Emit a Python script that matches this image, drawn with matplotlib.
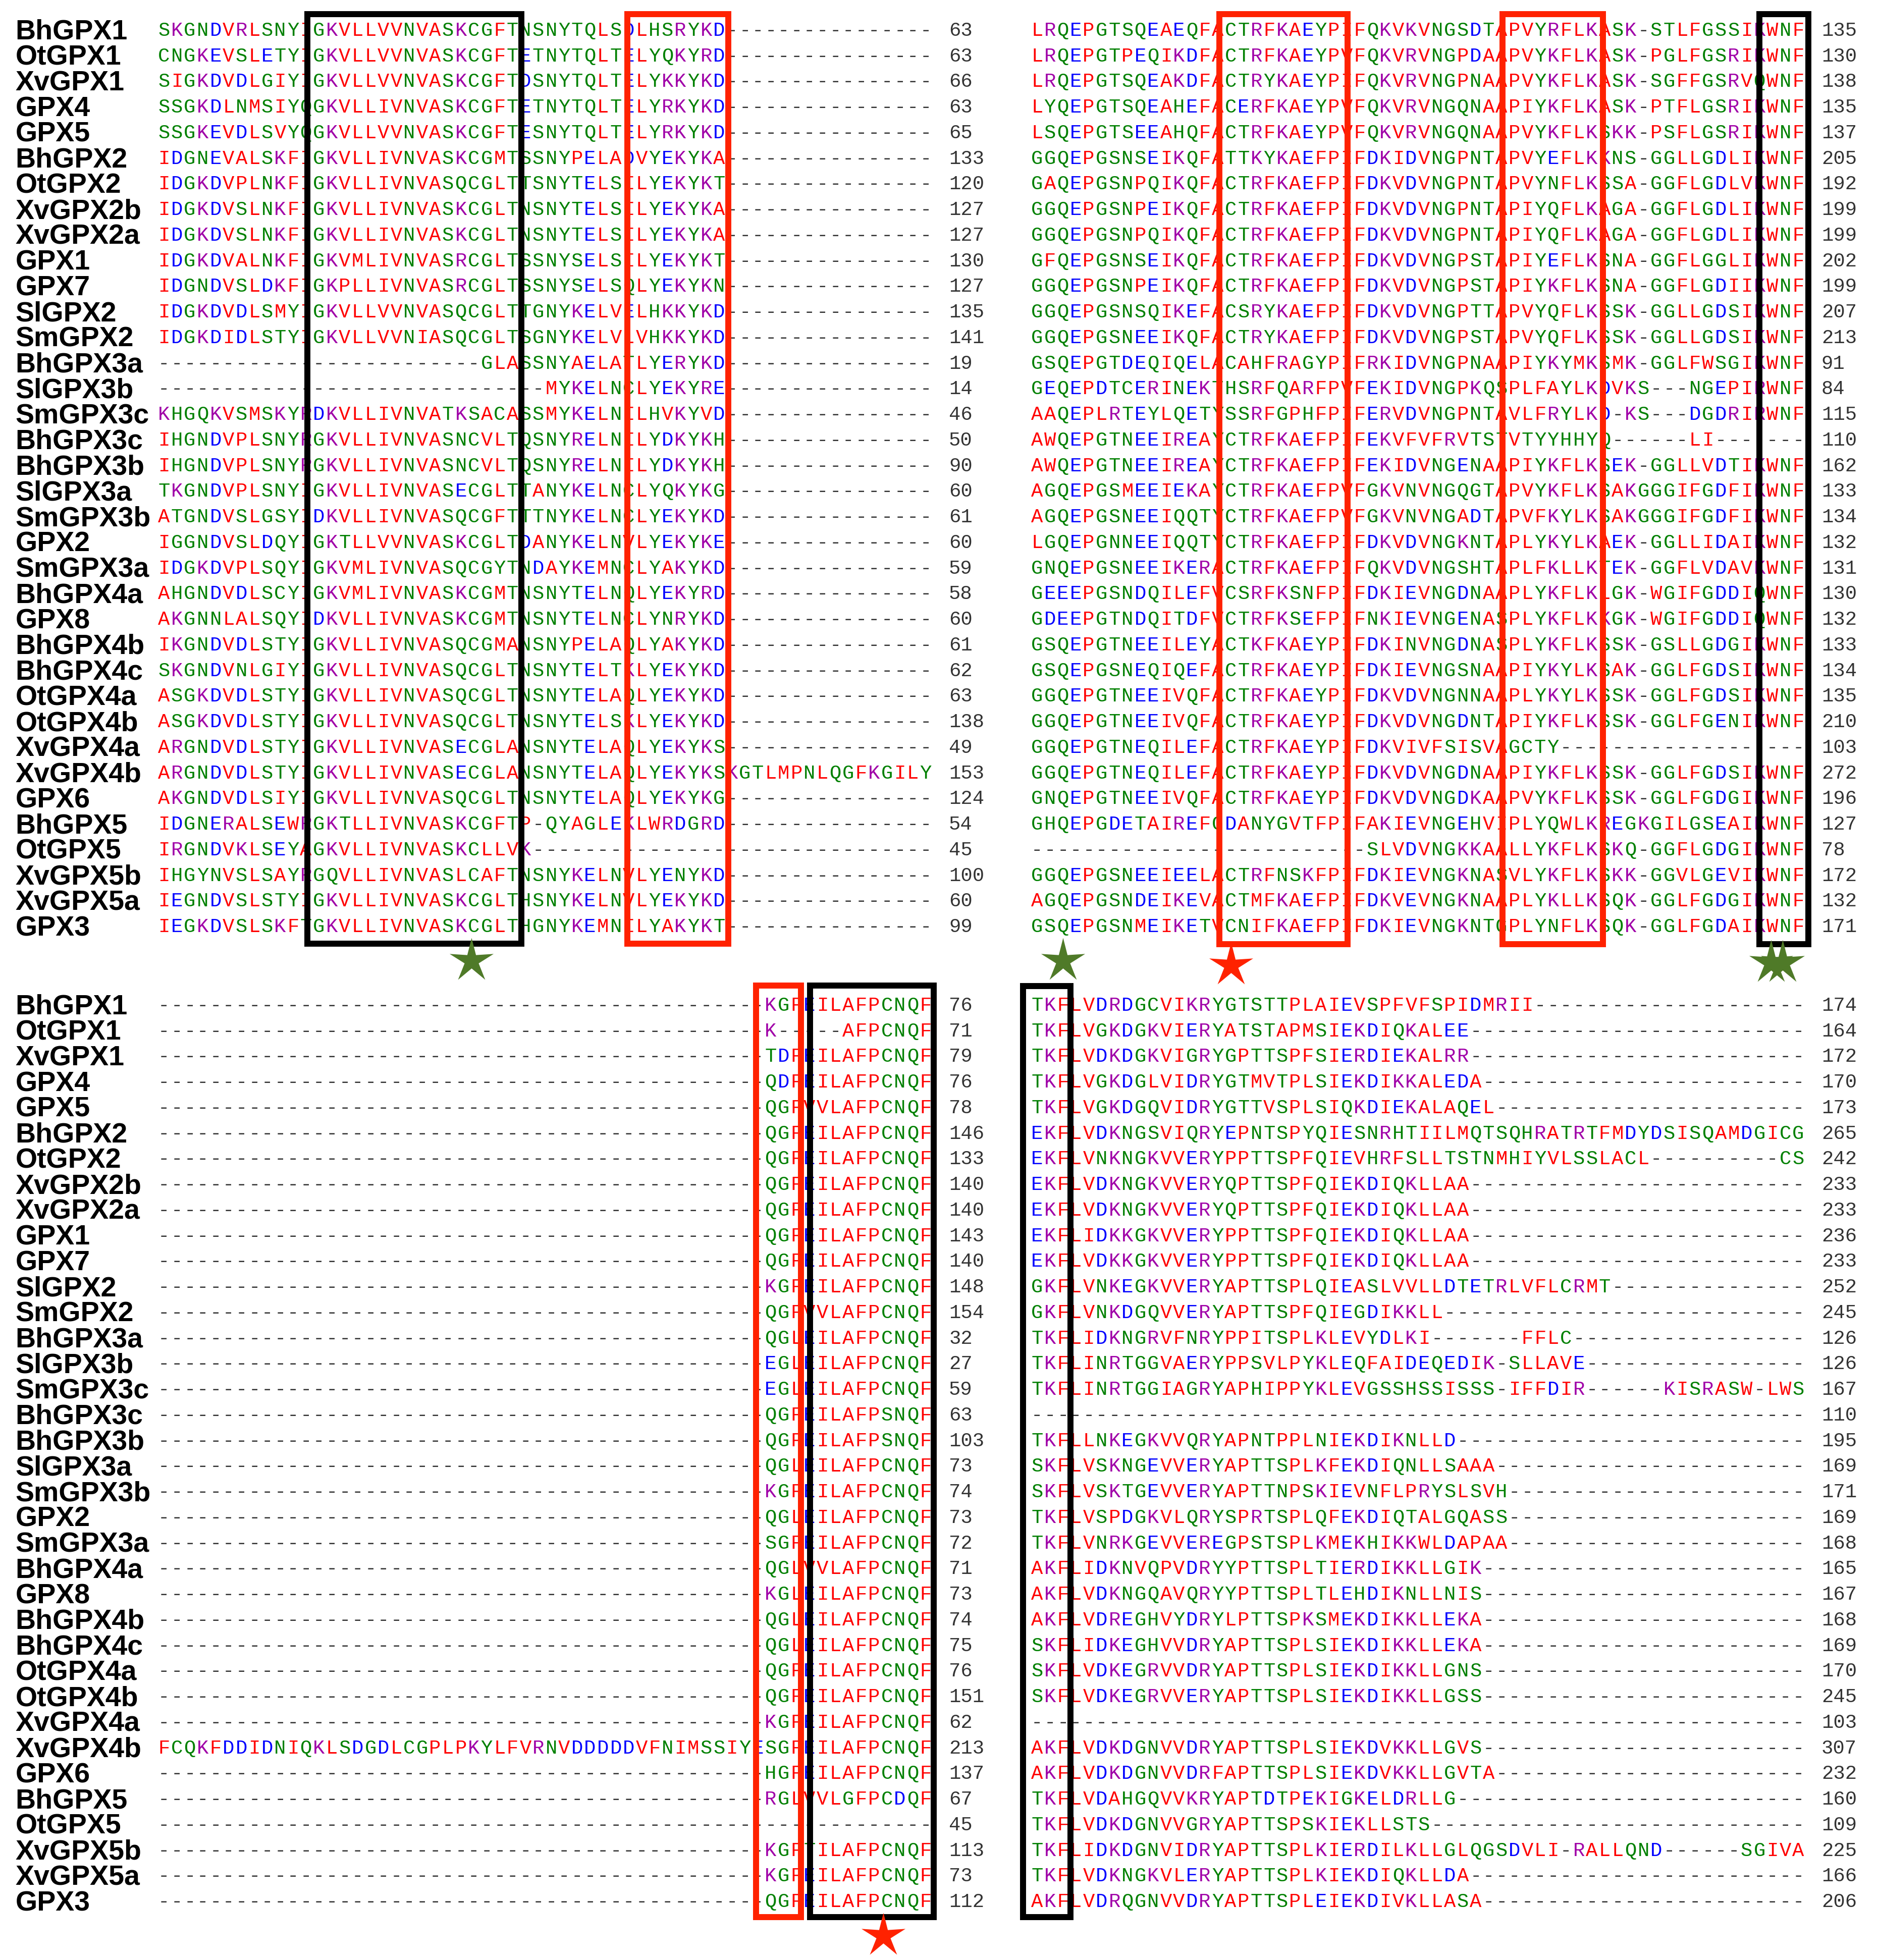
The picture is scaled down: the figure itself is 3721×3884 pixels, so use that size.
import matplotlib
matplotlib.use("Agg")
import matplotlib.pyplot as plt
from matplotlib.patches import Rectangle
from matplotlib.path import Path

# sequence names (same order in all four blocks)
names = ["BhGPX1", "OtGPX1", "XvGPX1", "GPX4", "GPX5", "BhGPX2", "OtGPX2", "XvGPX2b",
         "XvGPX2a", "GPX1", "GPX7", "SlGPX2", "SmGPX2", "BhGPX3a", "SlGPX3b", "SmGPX3c",
         "BhGPX3c", "BhGPX3b", "SlGPX3a", "SmGPX3b", "GPX2", "SmGPX3a", "BhGPX4a", "GPX8",
         "BhGPX4b", "BhGPX4c", "OtGPX4a", "OtGPX4b", "XvGPX4a", "XvGPX4b", "GPX6", "BhGPX5",
         "OtGPX5", "XvGPX5b", "XvGPX5a", "GPX3"]

# block 1 (top left), columns 1-60
block1 = [
    "SKGNDVRLSNYIGKVLLVVNVASKCGFTNSNYTQLSDLHSRYKD",
    "CNGKEVSLETYIGKVLLVVNVASKCGFTETNYTQLTELYQKYRD",
    "SIGKDVDLGIYIGKVLLVVNVASKCGFTDSNYTQLTELYKKYKD",
    "SSGKDLNMSIYQGKVLLIVNVASKCGFTETNYTQLTELYRKYKD",
    "SSGKEVDLSVYQGKVLLVVNVASKCGFTESNYTQLTELYRKYKD",
    "IDGNEVALSKFIGKVLLIVNVASKCGMTSSNYPELADVYEKYKA",
    "IDGKDVPLNKFIGKVLLIVNVASQCGLTTSNYTELSILYEKYKT",
    "IDGKDVSLNKFIGKVLLIVNVASKCGLTNSNYTELSILYEKYKA",
    "IDGKDVSLNKFIGKVLLIVNVASKCGLTNSNYTELSILYEKYKA",
    "IDGKDVALNKFIGKVMLIVNVASRCGLTSSNYSELSILYEKYKT",
    "IDGNDVSLDKFIGKPLLIVNVASRCGLTSSNYSELSQLYEKYKN",
    "IDGKDVDLSMYIGKVLLVVNVASQCGLTTGNYKELVELHKKYKD",
    "IDGKDIDLSTYIGKVLLVVNIASQCGLTSGNYKELVLVHKKYKD",
    "-------------------------GLASSNYAELATLYERYKD",
    "------------------------------MYKELNCLYEKYRE",
    "KHGQKVSMSKYRDKVLLIVNVATKSACASSMYKELNILHVKYVD",
    "IHGNDVPLSNYRGKVLLIVNVASNCVLTQSNYRELNILYDKYKH",
    "IHGNDVPLSNYRGKVLLIVNVASNCVLTQSNYRELNILYDKYKH",
    "TKGNDVPLSNYIGKVLLIVNVASECGLTTANYKELNCLYQKYKG",
    "ATGNDVSLGSYIDKVLLIVNVASQCGFTTTNYKELNCLYEKYKD",
    "IGGNDVSLDQYIGKTLLVVNVASKCGLTDANYKELNVLYEKYKE",
    "IDGKDVPLSQYIGKVMLIVNVASQCGYTNDAYKEMNCLYAKYKD",
    "AHGNDVDLSCYIGKVMLIVNVASKCGMTNSNYTELNQLYEKYRD",
    "AKGNNLALSQYIDKVLLIVNVASKCGMTNSNYTELNCLYNRYKD",
    "IKGNDVDLSTYIGKVLLIVNVASQCGMANSNYPELAQLYAKYKD",
    "SKGNDVNLGIYIGKVLLIVNVASQCGLTNSNYTELTKLYEKYKD",
    "ASGKDVDLSTYIGKVLLIVNVASQCGLTNSNYTELAQLYEKYKD",
    "ASGKDVDLSTYIGKVLLIVNVASQCGLTNSNYTELSKLYEKYKD",
    "ARGNDVDLSTYIGKVLLIVNVASECGLANSNYTELAQLYEKYKS",
    "ARGNDVDLSTYIGKVLLIVNVASECGLANSNYTELAQLYEKYKSKGTLMPNLQGFKGILY",
    "AKGNDVDLSIYIGKVLLIVNVASQCGLTNSNYTELAQLYEKYKG",
    "IDGNERALSEWRGKTLLIVNVASKCGFTP-QYAGLEKLWRDGRD",
    "IRGNDVKLSEYAGKVLLIVNVASKCLLVK",
    "IHGYNVSLSAYRGQVLLIVNVASLCAFTNSNYKELNVLYENYKD",
    "IEGNDVSLSTYIGKVLLIVNVASKCGLTHSNYKELNVLYEKYKD",
    "IEGKDVSLSKFTGKVLLIVNVASKCGLTHGNYKEMNILYAKYKT",
]
nums1 = [63, 63, 66, 63, 65, 133, 120, 127, 127, 130, 127, 135, 141, 19, 14, 46, 50, 90,
         60, 61, 60, 59, 58, 60, 61, 62, 63, 138, 49, 153, 124, 54, 45, 100, 60, 99]

# block 2 (top right), columns 61-120
block2 = [
    "LRQEPGTSQEAEQFACTRFKAEYPIFQKVKVNGSDTAPVYRFLKASK-STLFGSSIKWNF",
    "LRQEPGTPEQIKDFACTRFKAEYPVFQKVRVNGPDAAPVYKFLKASK-PGLFGSRIKWNF",
    "LRQEPGTSQEAKDFACTRYKAEYPIFQKVRVNGPNAAPVYKFLKASK-SGFFGSRVQWNF",
    "LYQEPGTSQEAHEFACERFKAEYPVFQKVRVNGQNAAPIYKFLKASK-PTFLGSRIKWNF",
    "LSQEPGTSEEAHQFACTRFKAEYPVFQKVRVNGQNAAPVYKFLKSKK-PSFLGSRIKWNF",
    "GGQEPGSNSEIKQFATTKYKAEFPIFDKIDVNGPNTAPVYEFLKKNS-GGLLGDLIKWNF",
    "GAQEPGSNPQIKQFACTRFKAEFPIFDKVDVNGPNTAPVYNFLKSSA-GGFLGDLVKWNF",
    "GGQEPGSNPEIKQFACTRFKAEFPIFDKVDVNGPNTAPIYQFLKAGA-GGFLGDLIKWNF",
    "GGQEPGSNPQIKQFACTRFKAEFPIFDKVDVNGPNTAPIYQFLKAGA-GGFLGDLIKWNF",
    "GFQEPGSNSEIKQFACTRFKAEFPIFDKVDVNGPSTAPIYEFLKSNA-GGFLGGLIKWNF",
    "GGQEPGSNPEIKQFACTRFKAEFPIFDKVDVNGPSTAPIYKFLKSNA-GGFLGDIIKWNF",
    "GGQEPGSNSQIKEFACSRYKAEFPIFDKVDVNGPTTAPVYQFLKSSK-GGLLGDSIKWNF",
    "GGQEPGSNEEIKQFACTRYKAEFPIFDKVDVNGPSTAPVYQFLKSSK-GGLLGDSIKWNF",
    "GSQEPGTDEQIQELACAHFRAGYPIFRKIDVNGPNAAPIYKYMKSMK-GGLFWSGIKWNF",
    "GEQEPDTCERINEKTHSRFQARFPVFEKIDVNGPKQSPLFAYLKDVKS---NGEPIRWNF",
    "AAQEPLRTEYLQETYSSRFGPHFPIFERVDVNGPNTAVLFRYLKD-KS---DGDRIRWNF",
    "AWQEPGTNEEIREAYCTRFKAEFPIFEKVFVFRVTSTVTYYHHYQ------LI-------",
    "AWQEPGTNEEIREAYCTRFKAEFPIFEKIDVNGENAAPIYKFLKSEK-GGLLVDTIKWNF",
    "AGQEPGSMEEIEKAYCTRFKAEFPVFGKVNVNGQGTAPVYKFLKSAKGGGIFGDFIKWNF",
    "AGQEPGSNEEIQQTYCTRFKAEFPVFGKVNVNGADTAPVFKYLKSAKGGGIFGDFIKWNF",
    "LGQEPGNNEEIQQTYCTRFKAEFPIFDKVDVNGKNTAPLYKYLKAEK-GGLLIDAIKWNF",
    "GNQEPGSNEEIKERACTRFKAEFPIFQKVDVNGSHTAPLFKLLKTEK-GGFLVDAVKWNF",
    "GEEEPGSNDQILEFVCSRFKSNFPIFDKIEVNGDNAAPLYKFLKLGK-WGIFGDDIQWNF",
    "GDEEPGTNDQITDFVCTRFKSEFPIFNKIEVNGENASPLYKFLKKGK-WGIFGDDIQWNF",
    "GSQEPGTNEEILEYACTKFKAEYPIFDKINVNGDNASPLYKFLKSSK-GSLLGDGIKWNF",
    "GSQEPGSNEQIQEFACTRFKAEYPIFDKIEVNGSNAAPIYKYLKSAK-GGLFGDSIKWNF",
    "GGQEPGTNEEIVQFACTRFKAEYPIFDKVDVNGNNAAPLYKYLKSSK-GGLFGDSIKWNF",
    "GGQEPGTNEEIVQFACTRFKAEYPIFDKVDVNGDNTAPIYKFLKSSK-GGLFGENIKWNF",
    "GGQEPGTNEQILEFACTRFKAEYPIFDKVIVFSISVAGCTY",
    "GGQEPGTNEQILEFACTRFKAEYPIFDKVDVNGDNAAPIYKFLKSSK-GGLFGDSIKWNF",
    "GNQEPGTNEEIVQFACTRFKAEYPIFDKVDVNGDKAAPVYKFLKSSK-GGLFGDGIKWNF",
    "GHQEPGDETAIREFGDANYGVTFPIFAKIEVNGEHVIPLYQWLKREGKGILGSEAIKWNF",
    "--------------------------SLVDVNGKKAALLYKFLKSKQ-GGFLGDGIKWNF",
    "GGQEPGSNEEIEELACTRFNSKFPIFDKIEVNGKNASVLYKFLKSKK-GGVLGEVIKWNF",
    "AGQEPGSNDEIKEVACTMFKAEFPIFDKVEVNGKNAAPLYKLLKSQK-GGLFGDGIKWNF",
    "GSQEPGSNMEIKETVCNIFKAEFPIFDKIEVNGKNTGPLYNFLKSQK-GGLFGDAIKWNF",
]
nums2 = [135, 130, 138, 135, 137, 205, 192, 199, 199, 202, 199, 207, 213, 91, 84, 115, 110,
         162, 133, 134, 132, 131, 130, 132, 133, 134, 135, 210, 103, 272, 196, 127, 78, 172,
         132, 171]

# block 3 (bottom left), columns 121-180; only the last 13 columns hold residues
tail3 = ["KGFEILAFPCNQF", "K-----AFPCNQF", "TDFEILAFPCNQF", "QDFEILAFPCNQF", "QGFVVLAFPCNQF",
         "QGFEILAFPCNQF", "QGFEILAFPCNQF", "QGFEILAFPCNQF", "QGFEILAFPCNQF", "QGFEILAFPCNQF",
         "QGFEILAFPCNQF", "KGFEILAFPCNQF", "QGFVVLAFPCNQF", "QGLEILAFPCNQF", "EGLEILAFPCNQF",
         "EGLEILAFPCNQF", "QGFEILAFPSNQF", "QGFEILAFPSNQF", "QGLEILAFPCNQF", "KGFEILAFPCNQF",
         "QGLEILAFPCNQF", "SGFEILAFPCNQF", "QGLVVLAFPCNQF", "KGLEILAFPCNQF", "QGLEILAFPCNQF",
         "QGLEILAFPCNQF", "QGFEILAFPCNQF", "QGFEILAFPCNQF", "KGFEILAFPCNQF",
         "FCQKFDDIDNIQKLSDGDLCGPLPKYLFVRNVDDDDDVFNIMSSIYESGFEILAFPCNQF",
         "HGFEILAFPCNQF", "RGLVVLGFPCDQF", "-------------", "KGFTILAFPCNQF", "KGFEILAFPCNQF",
         "QGFEILAFPCNQF"]
nums3 = [76, 71, 79, 76, 78, 146, 133, 140, 140, 143, 140, 148, 154, 32, 27, 59, 63, 103,
         73, 74, 73, 72, 71, 73, 74, 75, 76, 151, 62, 213, 137, 67, 45, 113, 73, 112]

# block 4 (bottom right), columns 181-240
block4 = [
    "TKFLVDRDGCVIKRYGTSTTPLAIEVSPFVFSPIDMRII",
    "TKFLVGKDGKVIERYATSTAPMSIEKDIQKALEE",
    "TKFLVDKDGKVIGRYGPTTSPFSIERDIEKALRR",
    "TKFLVGKDGLVIDRYGTMVTPLSIEKDIKKALEDA",
    "TKFLVGKDGQVIDRYGTTVSPLSIQKDIEKALAQEL",
    "EKFLVDKNGSVIQRYEPNTSPYQIESNRHTIILMQTSQHRATRTFMDYDSISQAMDGICG",
    "EKFLVNKNGKVVERYPPTTSPFQIEVHRFSLLTSTNMHIYVLSSLACL----------CS",
    "EKFLVDKNGKVVERYQPTTSPFQIEKDIQKLLAA",
    "EKFLVDKNGKVVERYQPTTSPFQIEKDIQKLLAA",
    "EKFLIDKKGKVVERYPPTTSPFQIEKDIQKLLAA",
    "EKFLVDKKGKVVERYPPTTSPFQIEKDIQKLLAA",
    "GKFLVNKEGKVVERYAPTTSPLQIEASLVVLLDTETRLVFLCRMT",
    "GKFLVNKDGQVVERYAPTTSPFQIEGDIKKLL",
    "TKFLIDKNGRVFNRYPPITSPLKLEVYDLKI-------FFLC",
    "TKFLINRTGGVAERYPPSVLPYKLEQFAIDEQEDIK-SLLAVE",
    "TKFLINRTGGIAGRYAPHIPPYKLEVGSSHSSISSS-IFFDIR------KISRASW-LWS",
    "",
    "TKFLLNKEGKVVQRYAPNTPPLNIEKDIKNLLD",
    "SKFLVSKNGEVVERYAPTTSPLKFEKDIQNLLSAAA",
    "SKFLVSKTGEVVERYAPTTNPSKIEVNFLPRYSLSVH",
    "TKFLVSPDGKVLQRYSPRTSPLQFEKDIQTALGQASS",
    "TKFLVNRKGEVVEREGPSTSPLKMEKHIKKWLDAPAA",
    "AKFLIDKNVQPVDRYYPTTSPLTIERDIKKLLGIK",
    "AKFLVDKNGQAVQRYYPTTSPLTLEHDIKNLLNIS",
    "AKFLVDREGHVYDRYLPTTSPKSMEKDIKKLLEKA",
    "SKFLIDKEGHVVDRYAPTTSPLSIEKDIKKLLEKA",
    "SKFLVDKEGRVVDRYAPTTSPLSIEKDIKKLLGNS",
    "SKFLVDKEGRVVERYAPTTSPLSIEKDIKKLLGSS",
    "",
    "AKFLVDKDGNVVDRYAPTTSPLSIEKDVKKLLGVS",
    "AKFLVDKDGNVVDRFAPTTSPLSIEKDVKKLLGVTA",
    "TKFLVDAHGQVVKRYAPTDTPEKIGKELDRLLG",
    "TKFLVDKDGNVVGRYAPTTSPSKIEKLLSTS",
    "TKFLIDKDGNVIDRYAPTTSPLKIERDILKLLGLQGSDVLI-RALLQND------SGIVA",
    "TKFLVDKNGKVLERYAPTTSPLKIEKDIQKLLDA",
    "AKFLVDRQGNVVDRYAPTTSPLEIEKDIVKLLASA",
]
nums4 = [174, 164, 172, 170, 173, 265, 242, 233, 233, 236, 233, 252, 245, 126, 126, 167, 110,
         195, 169, 171, 169, 168, 165, 167, 168, 169, 170, 245, 103, 307, 232, 160, 109, 225,
         166, 206]

NCOL = 60
block3 = [t.rjust(NCOL, "-") for t in tail3]

# highlighted column spans (column units, 0 = first column of the block)
boxes1 = [(11.6, 28.2, "black"), (36.4, 44.2, "red")]
boxes2 = [(14.62, 24.57, "red"), (36.58, 44.37, "red"), (56.5, 60.3, "black")]
boxes3 = [(46.35, 49.84, "red"), (50.56, 60.13, "black")]
boxes4 = [(-0.6, 3.08, "black")]
# conserved-site stars under the blocks: (column, colour)
stars1 = [(24.3, "green")]
stars2 = [(2.5, "green"), (15.55, "red"), (57.4, "green"), (58.3, "green")]
stars3 = [(56.2, "red")]
stars4 = []

# residue colours (ClustalX-like)
RES_COL = {}
for aa in "AVFPMILW":
    RES_COL[aa] = "#ff0000"
for aa in "DE":
    RES_COL[aa] = "#0000ff"
for aa in "KR":
    RES_COL[aa] = "#a000a8"
for aa in "STYHCNGQ":
    RES_COL[aa] = "#008000"
GAP_COL = "#333333"
BOX_COL = {"black": "#000000", "red": "#ff2200"}
STAR_COL = {"green": "#4f7a28", "red": "#ff2200"}

W, H = 3721, 3884
DPI = 100
ROW_H = 50.75  # px per row
MONO = ["Liberation Mono", "DejaVu Sans Mono"]
SEQ_SIZE = 28
NAME_SIZE = 40
seq_base = 0.5 + 0.659 * SEQ_SIZE * DPI / 72 / 2 / ROW_H
name_base = 0.5 + 0.716 * NAME_SIZE * DPI / 72 / 2 / ROW_H

fig = plt.figure(figsize=(W / DPI, H / DPI), dpi=DPI)
fig.patch.set_facecolor("white")

star = Path.unit_regular_star(5, 0.32)


def panel_axes(x0, y0, cw, xlim, ylim):
    left = x0 + xlim[0] * cw
    right = x0 + xlim[1] * cw
    top = y0 + ylim[1] * ROW_H
    bottom = y0 + ylim[0] * ROW_H
    ax = fig.add_axes([left / W, 1 - bottom / H, (right - left) / W, (bottom - top) / H])
    ax.set_xlim(*xlim)
    ax.set_ylim(*ylim)
    ax.axis("off")
    return ax


def draw_block(ax, seqs, nums, boxes, stars, box_y, star_y, with_names):
    for r, s in enumerate(seqs):
        s = s.ljust(NCOL, "-")[:NCOL]
        for c, ch in enumerate(s):
            ax.text(c + 0.5, r + seq_base, ch, ha="center", va="baseline",
                    family=MONO, size=SEQ_SIZE, color=RES_COL.get(ch, GAP_COL))
        ax.text(61.3, r + seq_base, str(nums[r]), ha="left", va="baseline",
                family=MONO, size=SEQ_SIZE, color="#333333")
        if with_names:
            ax.text(-11.0, r + name_base, names[r], ha="left", va="baseline",
                    family=["Liberation Sans", "DejaVu Sans"], weight="bold",
                    size=NAME_SIZE, color="black")
    for x1, x2, col in boxes:
        ax.add_patch(Rectangle((x1, box_y[0]), x2 - x1, box_y[1] - box_y[0], fill=False,
                               edgecolor=BOX_COL[col], lw=8.6, joinstyle="miter",
                               zorder=5, clip_on=False))
    for (x, col), y in zip(stars, star_y):
        ax.plot([x], [y], linestyle="none", marker=star, ms=66, color=STAR_COL[col],
                mec="none", zorder=6, clip_on=False)


# top left
ax1 = panel_axes(312, 32.6, 25.58, (-12, 64), (37.8, -0.6))
draw_block(ax1, block1, nums1, boxes1, stars1, (-0.1, 36.2), [36.87], True)
# top right
ax2 = panel_axes(2042, 32.6, 25.56, (-1.5, 64.5), (37.8, -0.6))
draw_block(ax2, block2, nums2, boxes2, stars2, (-0.1, 36.22), [36.87, 37.05, 36.95, 36.95], False)
# bottom left
ax3 = panel_axes(312, 1964.6, 25.58, (-12, 64), (37.6, -0.6))
draw_block(ax3, block3, nums3, boxes3, stars3, (-0.23, 36.15), [36.87], True)
# bottom right
ax4 = panel_axes(2042, 1964.6, 25.56, (-1.5, 64.5), (37.6, -0.6))
draw_block(ax4, block4, nums4, boxes4, stars4, (-0.2, 36.14), [], False)

fig.savefig("out.png", dpi=DPI, facecolor="white")
